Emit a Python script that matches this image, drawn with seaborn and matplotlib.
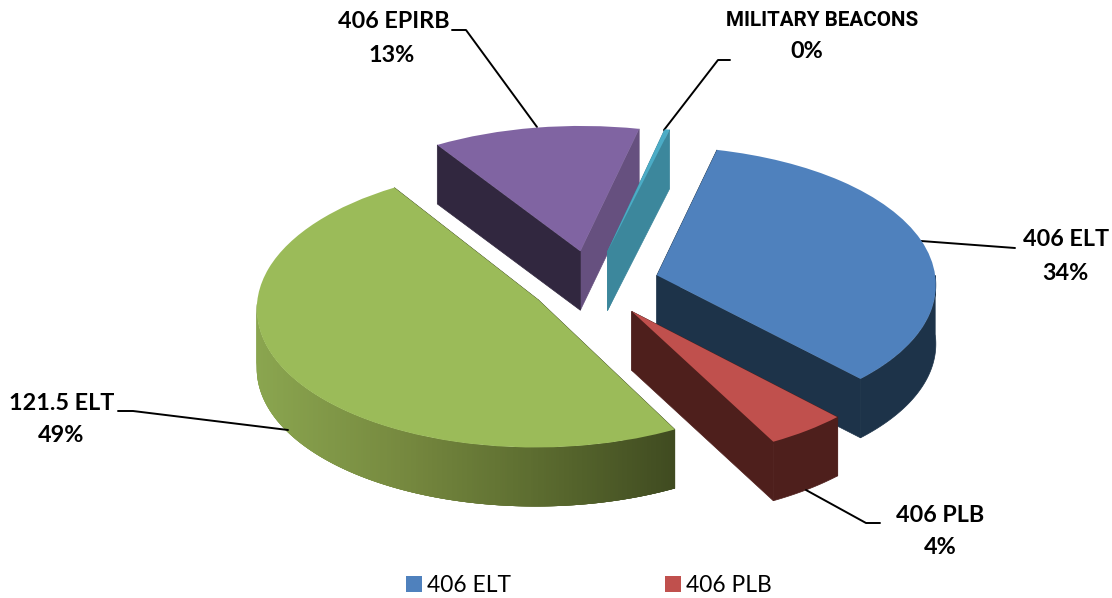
import numpy as np
import matplotlib
matplotlib.use("Agg")
import matplotlib.pyplot as plt
from matplotlib.transforms import Transform
import seaborn as sns

categories = ["406 ELT", "406 PLB", "121.5 ELT", "406 EPIRB", "MILITARY BEACONS"]
values = [33.9, 4.4, 48.6, 12.8, 0.3]
pct_labels = ["34%", "4%", "49%", "13%", "0%"]
top_colors = ["#4f81bd", "#c0504d", "#9bbb59", "#8064a2", "#4bacc6"]
# wall shade on the clockwise side and on the other side of each slice
wall_right = ["#1d3349", "#4e1f1c", "#3f4a20", "#66507f", "#3c879c"]
wall_left = ["#1d3349", "#4e1f1c", "#3f4a20", "#31273f", "#3c879c"]
arc_colors = ["#1d3349", "#4e1f1c", None, "#66507f", "#3c879c"]

sns.set_theme(style="white")
plt.rcParams['font.family'] = ['Lato', 'DejaVu Sans']


def tilt(xy):
    # fake perspective on the whole chart: top end narrower, both ends pushed down
    xy = np.array(xy, dtype=float)
    dx = xy[:, 0] - 592
    dy = xy[:, 1] - 636
    return np.column_stack([592 + dx * (1 - 0.0002 * (dy + 20)),
                            xy[:, 1] - np.where(dy > 0, 0.000265, 0.00015) * dy ** 2])


class Tilt(Transform):
    input_dims = output_dims = 2

    def transform_non_affine(self, values):
        return tilt(values)


fig = plt.figure(figsize=(11.12, 5.98), dpi=100)
ax = fig.add_axes([0, 0, 1, 1])

# data units: x = pixels, y = 2 * pixels from the bottom, so the circle flattens to 2:1
depth = 118
wedges, _ = ax.pie(values, explode=[67.5, 67, 62, 67.5, 67.5], startangle=76, counterclock=False,
                   center=(592, 628), radius=280, frame=True,
                   colors=top_colors, wedgeprops=dict(linewidth=0, zorder=3))
ax.set_aspect('auto')
ax.set_xlim(0, 1112)
ax.set_ylim(0, 1196)
ax.axis('off')

green_ramp = sns.blend_palette(["#8aa54f", "#76893f", "#5b6b2f", "#3f4a20"], 256)

for i, w in enumerate(wedges):
    cx, cy = w.center
    w.set_transform(Tilt() + ax.transData)
    for ang, col in ((w.theta1, wall_right[i]), (w.theta2, wall_left[i])):
        p = tilt([(cx, cy), (cx + w.r * np.cos(np.radians(ang)), cy + w.r * np.sin(np.radians(ang)))])
        ax.fill([p[0, 0], p[1, 0], p[1, 0], p[0, 0]],
                [p[0, 1], p[1, 1], p[1, 1] - depth, p[0, 1] - depth], color=col, lw=0.5, zorder=1.5)
    # only the part of the rim facing the viewer has a wall
    angs = np.radians(np.arange(w.theta1, w.theta2 + 0.5, 0.5))
    angs = angs[np.sin(angs) < 0]
    if len(angs) < 2:
        continue
    rim = tilt(np.column_stack([cx + w.r * np.cos(angs), cy + w.r * np.sin(angs)]))
    xs, ys = rim[:, 0], rim[:, 1]
    if arc_colors[i] is None:
        # left to right shading, each strip runs under the next one so no seams show
        for j in np.argsort(xs)[::-1]:
            k = min(j + 4, len(angs) - 1)
            t = (xs[j] - 257) / (670 - 257)
            col = green_ramp[int(np.clip(t, 0, 1) * 255)]
            ax.fill([xs[j], xs[k], xs[k], xs[j]], [ys[j], ys[k], ys[k] - depth, ys[j] - depth],
                    color=col, lw=0, zorder=2)
    else:
        ax.fill(np.r_[xs, xs[::-1]], np.r_[ys, ys[::-1] - depth], color=arc_colors[i], lw=0.5, zorder=2)


def py(y):
    return (598 - y) * 2


# leader lines and labels, pixel positions
name_pos = [(1066, 240), (940, 516), (62, 403), (394, 22), (822, 20)]
pct_pos = [(1065, 273), (940, 547), (61, 436), (392, 55), (807, 52)]
name_size = [16.8, 16.8, 16.8, 16.8, 14.9]
name_font = ['Lato', 'Lato', 'Lato', 'Lato', 'Roboto']
leaders = [
    ([1015, 921], [248, 241]),
    ([880, 866, 806], [523, 523, 490]),
    ([118, 133, 288], [411, 411, 430]),
    ([452, 466, 537], [30, 30, 127]),
    ([730, 718, 664], [60, 60, 130]),
]
for i in range(5):
    ax.text(name_pos[i][0], py(name_pos[i][1]), categories[i], ha='center', va='center',
            fontsize=name_size[i], family=name_font[i], fontweight='bold', color='black', zorder=6)
    ax.text(pct_pos[i][0], py(pct_pos[i][1]), pct_labels[i], ha='center', va='center',
            fontsize=16.8, fontweight='bold', color='black', zorder=6)
    ax.plot(leaders[i][0], [py(v) for v in leaders[i][1]], color='black', lw=1.4, zorder=2.5)

ax.legend(wedges[:2], categories[:2], ncol=2, frameon=False, fontsize=16.4,
          loc='center', bbox_to_anchor=(0.5295, 0.021), columnspacing=6.75,
          handlelength=0.7, handleheight=0.7, handletextpad=0.22, labelcolor='black')

plt.savefig("out.png", dpi=100)
